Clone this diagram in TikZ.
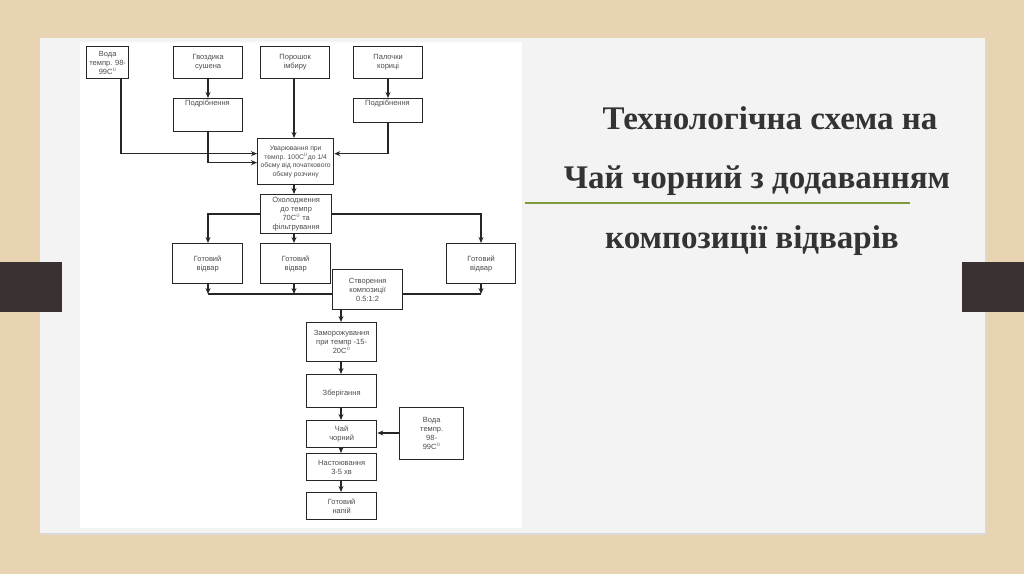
\documentclass[tikz,border=0pt]{standalone}
\usepackage{fontspec}
\setmainfont{Liberation Serif}
\newfontfamily\dfont{Liberation Sans}
\usetikzlibrary{arrows.meta}
\definecolor{wood}{HTML}{E8D4B2}
\definecolor{slide}{HTML}{F3F3F3}
\definecolor{bar}{HTML}{3A3230}
\definecolor{olive}{HTML}{7F9A3A}
\definecolor{ttl}{HTML}{333333}
\begin{document}
\begin{tikzpicture}[x=1pt,y=-1pt,
  bx/.style={draw=black!85,line width=1.3pt,fill=white,inner sep=0pt,anchor=north west,align=center,font=\dfont\fontsize{7.5}{9}\selectfont,text=black!70},
  lbl/.style={font=\dfont\fontsize{7.5}{9}\selectfont,text=black!70},
  ar/.style={draw=black!85,line width=1.2pt,-{Stealth[length=6pt,width=5pt]}},
  ln/.style={draw=black!85,line width=1.2pt},
  ttlf/.style={font=\bfseries\fontsize{33}{38}\selectfont,text=ttl}]
\useasboundingbox (0,0) rectangle (1024,574);
\fill[wood] (0,0) rectangle (1024,574);
\fill[black!15] (42,40) rectangle (987,535);
\fill[slide] (40,38) rectangle (985,533);
\fill[white] (80,42) rectangle (522,528);
\fill[bar] (0,262) rectangle (62,312);
\fill[bar] (962,262) rectangle (1024,312);
\draw[olive,line width=1.5pt] (525,203) -- (910,203);
\node[ttlf] (t1) at (770,118) {Технологічна схема на};
\node[ttlf] (t2) at (757,181) {Чай чорний з додаванням};
\node[ttlf] (t3) at (752,241) {композиції відварів};
% boxes
\node[bx,minimum width=42,minimum height=32] (voda) at (86,46) {Вода\\темпр. 98-\\99С$^0$};
\node[bx,minimum width=69,minimum height=32] (gv) at (173,46) {Гвоздика\\сушена};
\node[bx,minimum width=69,minimum height=32] (im) at (260,46) {Порошок\\імбиру};
\node[bx,minimum width=69,minimum height=32] (ko) at (353,46) {Палочки\\кориці};
\node[bx,minimum width=69,minimum height=33] (p1) at (173,98) {};
\node[lbl] (p1t) at (207.5,104) {Подрібнення};
\node[bx,minimum width=69,minimum height=24] (p2) at (353,98) {};
\node[lbl] (p2t) at (387.5,104) {Подрібнення};
\node[bx,minimum width=76,minimum height=46,font=\dfont\fontsize{6.8}{8.5}\selectfont] (uv) at (257,138) {Уварювання при\\темпр. 100С$^0$до 1/4\\обєму від початкового\\обєму розчину};
\node[bx,minimum width=71,minimum height=39] (oh) at (260,194) {Охолодження\\до темпр\\70С$^0$ та\\фільтрування};
\node[bx,minimum width=70,minimum height=40] (g1) at (172,243) {Готовий\\відвар};
\node[bx,minimum width=70,minimum height=40] (g2) at (260,243) {Готовий\\відвар};
\node[bx,minimum width=69,minimum height=40] (g3) at (446,243) {Готовий\\відвар};
\coordinate (jl) at (208,294);
\coordinate (jr) at (481,294);
\draw[ln] (jl) -- (jr);
\node[bx,minimum width=70,minimum height=40] (st) at (332,269) {Створення\\композиції\\0.5:1:2};
\node[bx,minimum width=70,minimum height=39] (za) at (306,322) {Заморожування\\при темпр -15-\\20С$^0$};
\node[bx,minimum width=70,minimum height=33] (zb) at (306,374) {\\[2pt]Зберігання};
\node[bx,minimum width=70,minimum height=27] (ch) at (306,420) {Чай\\чорний};
\node[bx,minimum width=64,minimum height=52] (v2) at (399,407) {Вода\\темпр.\\98-\\99С$^0$};
\node[bx,minimum width=70,minimum height=27] (na) at (306,453) {Настоювання\\3-5 хв};
\node[bx,minimum width=70,minimum height=27] (gn) at (306,492) {Готовий\\напій};
% connectors
\draw[ar] (voda.south -| 121,0) |- ([yshift=8pt]uv.west);
\draw[ar] (gv.south -| 208,0) -- (p1.north -| 208,0);
\draw[ar] (ko.south -| 388,0) -- (p2.north -| 388,0);
\draw[ar] (p1.south -| 208,0) |- ([yshift=-1pt]uv.west);
\draw[ar] (p2.south -| 388,0) |- ([yshift=8pt]uv.east);
\draw[ar] (im.south -| 294,0) -- (uv.north -| 294,0);
\draw[ar] (uv.south -| 294,0) -- (oh.north -| 294,0);
\draw[ar] (oh.west |- 0,214) -| (g1.north -| 208,0);
\draw[ar] (oh.east |- 0,214) -| (g3.north -| 481,0);
\draw[ar] (oh.south -| 294,0) -- (g2.north -| 294,0);
\draw[ar] (g1.south -| 208,0) -- (jl);
\draw[ar] (g2.south -| 294,0) -- (294,294);
\draw[ar] (g3.south -| 481,0) -- (jr);
\draw[ar] (st.south -| 341,0) -- (za.north -| 341,0);
\draw[ar] (za.south -| 341,0) -- (zb.north -| 341,0);
\draw[ar] (zb.south -| 341,0) -- (ch.north -| 341,0);
\draw[ar] (v2.west |- 0,433) -- (ch.east |- 0,433);
\draw[ar] (ch.south -| 341,0) -- (na.north -| 341,0);
\draw[ar] (na.south -| 341,0) -- (gn.north -| 341,0);
\end{tikzpicture}
\end{document}
